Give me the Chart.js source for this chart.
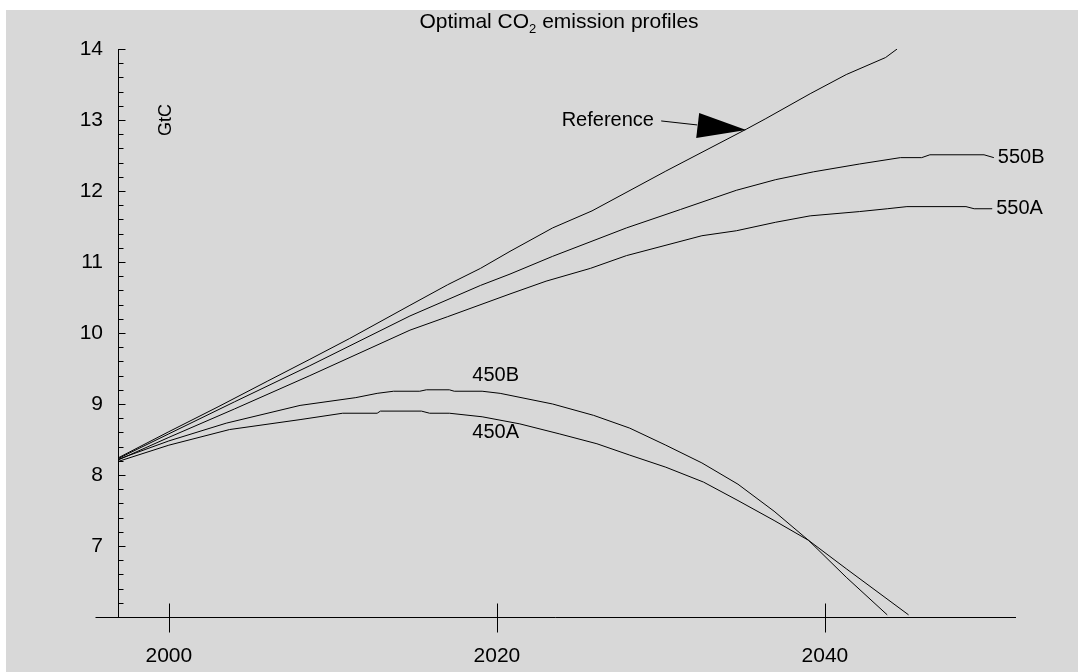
<!DOCTYPE html>
<html>
<head>
<meta charset="utf-8">
<title>Optimal CO2 emission profiles</title>
<script src="https://cdn.jsdelivr.net/npm/chart.js@4.4.0/dist/chart.umd.min.js"></script>
<style>
  html, body { margin: 0; padding: 0; background: #ffffff; }
  #wrap { position: absolute; left: 6px; top: 10px; }
  #chart { display: block; background: #d8d8d8; }
</style>
</head>
<body>
<div id="wrap"><canvas id="chart" width="1072" height="662"></canvas></div>
<script>
// Valores (GtC por año)
const refYears   = [1996.9, 2000, 2003, 2006, 2008.6, 2011, 2014.7, 2017, 2019, 2020.8, 2023.4, 2025.8, 2030.3, 2035.2, 2036.4, 2039.1, 2041.3, 2043.7, 2044.4];
const refValues  = [8.24, 8.61, 8.96, 9.32, 9.63, 9.92, 10.39, 10.68, 10.91, 11.15, 11.48, 11.72, 12.28, 12.87, 13.02, 13.37, 13.64, 13.88, 14.0];

const b550Years  = [1996.9, 2000, 2004, 2008.6, 2014.7, 2019, 2020.8, 2023.4, 2027.9, 2031.2, 2034.6, 2037, 2039.3, 2042.1, 2044.6, 2045.9, 2046.4, 2049.7, 2050.3];
const b550Values = [8.23, 8.58, 9.03, 9.54, 10.24, 10.67, 10.83, 11.08, 11.48, 11.74, 12.01, 12.16, 12.27, 12.38, 12.47, 12.47, 12.51, 12.51, 12.47];

const a550Years  = [1996.9, 2000, 2004, 2008.6, 2014.7, 2017, 2020.8, 2023, 2025.7, 2027.9, 2032.5, 2034.6, 2037, 2039.1, 2042.1, 2043.8, 2045, 2048.6, 2049.1, 2050.2];
const a550Values = [8.21, 8.53, 8.93, 9.40, 10.04, 10.23, 10.55, 10.73, 10.91, 11.09, 11.37, 11.44, 11.56, 11.65, 11.71, 11.75, 11.78, 11.78, 11.75, 11.75];

const b450Years  = [1996.9, 2000, 2003.5, 2008, 2011.4, 2012.7, 2013.7, 2015.3, 2015.7, 2017.1, 2017.4, 2019.1, 2020.2, 2023.4, 2025.9, 2028.1, 2030.3, 2032.5, 2034.7, 2036.9, 2039.0, 2041.3, 2043.8];
const b450Values = [8.22, 8.48, 8.73, 8.98, 9.09, 9.15, 9.18, 9.18, 9.20, 9.20, 9.18, 9.18, 9.15, 9.00, 8.84, 8.66, 8.42, 8.17, 7.87, 7.49, 7.08, 6.56, 6.03];

const a450Years  = [1996.9, 2000, 2003.7, 2008, 2010.6, 2012.7, 2012.9, 2015.4, 2015.9, 2017.1, 2019.1, 2021.4, 2023.8, 2026.1, 2028.1, 2030.3, 2032.6, 2034.7, 2036.9, 2039.0, 2041.3, 2045.1];
const a450Values = [8.19, 8.42, 8.64, 8.78, 8.87, 8.87, 8.90, 8.90, 8.87, 8.87, 8.82, 8.72, 8.58, 8.44, 8.28, 8.11, 7.90, 7.64, 7.36, 7.08, 6.68, 6.03];

const xTickYears = [2000, 2020, 2040];
const yTickValues = [7, 8, 9, 10, 11, 12, 13, 14];

const FONT = '"Liberation Sans", Arial, sans-serif';

function toPoints(xs, ys) {
  return xs.map((x, i) => ({ x: x, y: ys[i] }));
}

function makeSet(label, xs, ys) {
  return {
    label: label,
    data: toPoints(xs, ys),
    borderColor: '#000000',
    borderWidth: 1,
    pointRadius: 0,
    tension: 0,
    fill: false
  };
}

// Ejes, marcas y textos al estilo del original
const decorPlugin = {
  id: 'decor',
  afterDraw(chart) {
    const ctx = chart.ctx;
    const area = chart.chartArea;
    const xs = chart.scales.x;
    const ys = chart.scales.y;
    const px = v => xs.getPixelForValue(v);
    const py = v => ys.getPixelForValue(v);

    ctx.save();
    ctx.strokeStyle = '#000000';
    ctx.fillStyle = '#000000';
    ctx.lineWidth = 1;

    const seg = (x1, y1, x2, y2) => {
      ctx.beginPath();
      ctx.moveTo(x1, y1);
      ctx.lineTo(x2, y2);
      ctx.stroke();
    };

    // eje Y
    const axX = Math.round(area.left) + 0.5;
    const axY = Math.round(area.bottom) + 0.5;
    seg(axX, py(14), axX, axY);
    // eje X (se extiende a la izquierda del eje Y)
    seg(axX - 23, axY, area.right, axY);

    // marcas del eje Y (mayores y menores cada 0.2)
    for (let i = 31; i <= 70; i++) {
      const yy = Math.round(py(i / 5)) + 0.5;
      const len = i % 5 === 0 ? 7 : 5;
      seg(axX, yy, axX + len, yy);
    }
    // marcas del eje X cruzando la línea
    xTickYears.forEach(v => {
      const xx = Math.round(px(v)) + 0.5;
      seg(xx, axY - 14, xx, axY + 15);
    });

    ctx.font = '20px ' + FONT;
    ctx.textBaseline = 'middle';
    ctx.textAlign = 'left';

    // etiquetas al final de las series 550
    const endLabel = (txt, xsArr, ysArr) => {
      const n = xsArr.length - 1;
      ctx.fillText(txt, px(xsArr[n]) + 4, py(ysArr[n]));
    };
    endLabel('550B', b550Years, b550Values);
    endLabel('550A', a550Years, a550Values);

    // etiquetas de las series 450
    ctx.fillText('450B', px(2018.5), py(9.4));
    ctx.fillText('450A', px(2018.5), py(8.6));

    // anotación "Reference" con flecha
    ctx.fillText('Reference', px(2023.95), py(13.0));
    const tx = px(2035.2), ty = py(12.86);
    seg(tx - 85, ty - 9, tx - 49, ty - 5);
    ctx.beginPath();
    ctx.moveTo(tx, ty);
    ctx.lineTo(tx - 47, ty - 17);
    ctx.lineTo(tx - 50, ty + 8);
    ctx.closePath();
    ctx.fill();

    // unidad "GtC" girada
    ctx.save();
    ctx.font = '18px ' + FONT;
    ctx.translate(area.left + 48, py(13.0));
    ctx.rotate(-Math.PI / 2);
    ctx.textAlign = 'center';
    ctx.fillText('GtC', 0, 0);
    ctx.restore();

    // título con subíndice
    const main1 = 'Optimal CO';
    const sub = '2';
    const main2 = ' emission profiles';
    ctx.font = '21px ' + FONT;
    const w1 = ctx.measureText(main1).width;
    const w3 = ctx.measureText(main2).width;
    ctx.font = '13px ' + FONT;
    const w2 = ctx.measureText(sub).width;
    const total = w1 + w2 + w3;
    const cx = (area.left + area.right) / 2 - 8;
    const x0 = cx - total / 2;
    const tyTitle = 12;
    ctx.textAlign = 'left';
    ctx.font = '21px ' + FONT;
    ctx.fillText(main1, x0, tyTitle);
    ctx.font = '13px ' + FONT;
    ctx.fillText(sub, x0 + w1, tyTitle + 7);
    ctx.font = '21px ' + FONT;
    ctx.fillText(main2, x0 + w1 + w2, tyTitle);

    ctx.restore();
  }
};

const chart = new Chart(document.getElementById('chart'), {
  type: 'line',
  data: {
    datasets: [
      makeSet('Reference', refYears, refValues),
      makeSet('550B', b550Years, b550Values),
      makeSet('550A', a550Years, a550Values),
      makeSet('450B', b450Years, b450Values),
      makeSet('450A', a450Years, a450Values)
    ]
  },
  options: {
    responsive: false,
    animation: false,
    layout: { padding: { top: 39, right: 62, left: 0, bottom: 0 } },
    plugins: {
      legend: { display: false },
      tooltip: { enabled: false },
      title: { display: false }
    },
    scales: {
      x: {
        type: 'linear',
        min: 1996.9,
        max: 2051.65,
        grid: { display: false, drawTicks: false },
        border: { display: false },
        ticks: {
          color: '#000000',
          font: { family: FONT, size: 21 },
          padding: 27,
          maxRotation: 0,
          callback: v => String(v)
        },
        afterBuildTicks: scale => {
          scale.ticks = xTickYears.map(v => ({ value: v }));
        },
        afterFit: scale => { scale.height = 55; }
      },
      y: {
        type: 'linear',
        min: 6,
        max: 14,
        grid: { display: false, drawTicks: false },
        border: { display: false },
        ticks: {
          color: '#000000',
          font: { family: FONT, size: 21 },
          padding: 15,
          callback: v => String(v)
        },
        afterBuildTicks: scale => {
          scale.ticks = yTickValues.map(v => ({ value: v }));
        },
        afterFit: scale => { scale.width = 112; }
      }
    }
  },
  plugins: [decorPlugin]
});
</script>
</body>
</html>
